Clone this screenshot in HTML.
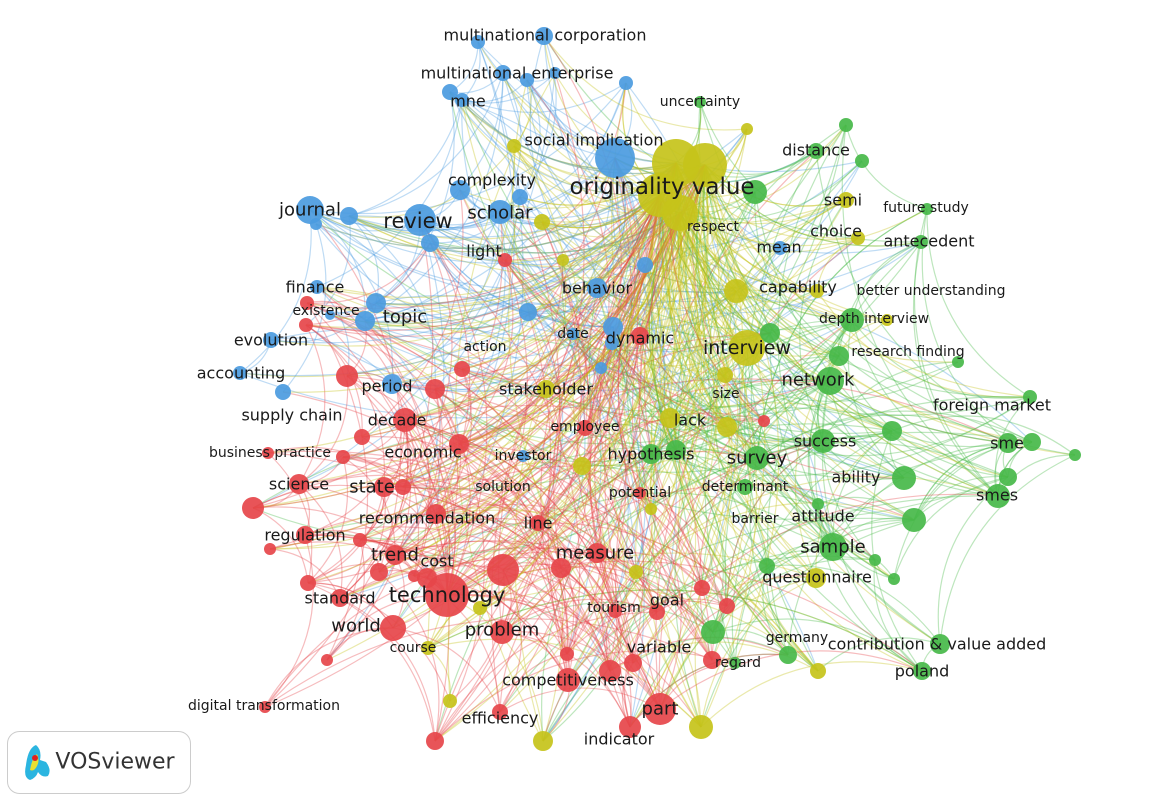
<!DOCTYPE html>
<html><head><meta charset="utf-8">
<style>
html,body{margin:0;padding:0;background:#fff;width:1151px;height:799px;overflow:hidden}
svg{display:block}
text{font-family:"DejaVu Sans","Liberation Sans",sans-serif;fill:#1a1a1a;text-anchor:middle;dominant-baseline:central}
.s{font-size:14px}.m{font-size:16px}.l{font-size:18px}.xl{font-size:22px}
</style></head><body>
<svg id="g" width="1151" height="799" viewBox="0 0 1151 799">
<g id="edges"></g>
<g id="nodes"></g>
<g id="labels">
<text class="m" x="545" y="35">multinational corporation</text>
<text class="m" x="517" y="73">multinational enterprise</text>
<text class="m" x="468" y="101">mne</text>
<text class="s" x="700" y="102">uncertainty</text>
<text class="m" x="594" y="140">social implication</text>
<text class="m" x="816" y="150">distance</text>
<text class="m" x="492" y="180">complexity</text>
<text style="font-size:23px" x="662" y="187">originality value</text>
<text class="m" x="843" y="200">semi</text>
<text class="s" x="926" y="208">future study</text>
<text class="l" x="310" y="210">journal</text>
<text class="l" x="500" y="213">scholar</text>
<text style="font-size:21px" x="418" y="221">review</text>
<text class="s" x="713" y="227">respect</text>
<text class="m" x="836" y="231">choice</text>
<text class="m" x="929" y="241">antecedent</text>
<text class="m" x="779" y="247">mean</text>
<text class="m" x="484" y="251">light</text>
<text class="m" x="315" y="287">finance</text>
<text class="m" x="597" y="288">behavior</text>
<text class="m" x="798" y="287">capability</text>
<text class="s" x="931" y="291">better understanding</text>
<text class="s" x="326" y="311">existence</text>
<text class="l" x="405" y="317">topic</text>
<text class="s" x="874" y="319">depth interview</text>
<text class="m" x="271" y="340">evolution</text>
<text class="m" x="640" y="338">dynamic</text>
<text class="s" x="573" y="334">date</text>
<text class="s" x="485" y="347">action</text>
<text style="font-size:19px" x="747" y="348">interview</text>
<text class="s" x="908" y="352">research finding</text>
<text class="m" x="241" y="373">accounting</text>
<text class="l" x="818" y="380">network</text>
<text class="m" x="387" y="386">period</text>
<text class="m" x="546" y="389">stakeholder</text>
<text class="s" x="726" y="394">size</text>
<text class="m" x="992" y="405">foreign market</text>
<text class="m" x="292" y="415">supply chain</text>
<text class="m" x="397" y="420">decade</text>
<text class="m" x="690" y="420">lack</text>
<text class="s" x="585" y="427">employee</text>
<text class="m" x="825" y="441">success</text>
<text class="m" x="1007" y="443">sme</text>
<text class="m" x="423" y="452">economic</text>
<text class="s" x="270" y="453">business practice</text>
<text class="s" x="523" y="456">investor</text>
<text class="m" x="651" y="454">hypothesis</text>
<text class="l" x="757" y="458">survey</text>
<text class="m" x="856" y="477">ability</text>
<text class="m" x="299" y="484">science</text>
<text class="l" x="372" y="487">state</text>
<text class="s" x="503" y="487">solution</text>
<text class="s" x="745" y="487">determinant</text>
<text class="s" x="640" y="493">potential</text>
<text class="m" x="997" y="495">smes</text>
<text class="m" x="823" y="516">attitude</text>
<text class="m" x="427" y="518">recommendation</text>
<text class="s" x="755" y="519">barrier</text>
<text class="m" x="538" y="523">line</text>
<text class="m" x="305" y="535">regulation</text>
<text class="l" x="833" y="547">sample</text>
<text class="l" x="595" y="553">measure</text>
<text class="l" x="395" y="555">trend</text>
<text class="m" x="437" y="561">cost</text>
<text class="m" x="817" y="577">questionnaire</text>
<text style="font-size:21px" x="447" y="595">technology</text>
<text class="m" x="340" y="598">standard</text>
<text class="m" x="667" y="600">goal</text>
<text class="s" x="614" y="608">tourism</text>
<text class="l" x="356" y="626">world</text>
<text class="l" x="502" y="630">problem</text>
<text class="s" x="797" y="638">germany</text>
<text class="m" x="937" y="644">contribution &amp; value added</text>
<text class="m" x="659" y="647">variable</text>
<text class="s" x="413" y="648">course</text>
<text class="s" x="738" y="663">regard</text>
<text class="m" x="922" y="671">poland</text>
<text class="m" x="568" y="680">competitiveness</text>
<text class="s" x="264" y="706">digital transformation</text>
<text class="l" x="660" y="709">part</text>
<text class="m" x="500" y="718">efficiency</text>
<text class="m" x="619" y="739">indicator</text>
</g>
<g>
<rect x="7.5" y="731.5" width="183" height="62" rx="12" fill="#fff" stroke="#ccc"/>
<path d="M26 765 Q28 748 36 745 Q42 750 40 760 L46 762 Q52 770 48 776 Q42 778 38 772 Q36 778 30 780 Q23 778 26 765Z" fill="#2bb5e0"/>
<path d="M30 770 Q32 758 37 754 Q40 760 37 766 Q34 772 30 770Z" fill="#e8e030"/>
<circle cx="35" cy="758" r="3" fill="#e02020"/>
<text x="115" y="762" style="font-size:22px;fill:#333;font-family:'DejaVu Sans','Liberation Sans',sans-serif">VOSviewer</text>
</g>
</svg>
<script>
var C={b:"#4b9be0",y:"#c6c31a",g:"#47b949",r:"#e6454a"};
var N=[
[478,42,7,'b'],[544,36,9,'b'],[503,73,8,'b'],[527,80,7,'b'],[555,73,6,'b'],[450,92,8,'b'],[462,100,7,'b'],[626,83,7,'b'],
[615,158,20,'b'],[460,190,10,'b'],[520,197,8,'b'],[310,210,14,'b'],[349,216,9,'b'],[316,224,6,'b'],[420,220,16,'b'],
[500,212,12,'b'],[430,243,9,'b'],[317,287,7,'b'],[330,315,5,'b'],[376,303,10,'b'],[365,321,10,'b'],[271,340,8,'b'],
[240,373,7,'b'],[392,384,10,'b'],[283,392,8,'b'],[597,288,10,'b'],[528,312,9,'b'],[613,327,10,'b'],[612,343,7,'b'],
[573,334,6,'b'],[645,265,8,'b'],[523,456,6,'b'],[601,368,6,'b'],[780,248,7,'b'],
[676,163,24,'y'],[705,165,22,'y'],[660,195,22,'y'],[680,213,18,'y'],[846,200,8,'y'],[858,238,7,'y'],[747,129,6,'y'],
[514,146,7,'y'],[542,222,8,'y'],[563,260,6,'y'],[736,291,12,'y'],[817,291,7,'y'],[747,348,18,'y'],[887,320,6,'y'],
[546,389,9,'y'],[725,375,8,'y'],[670,418,10,'y'],[727,427,10,'y'],[582,466,9,'y'],[651,509,6,'y'],[636,572,7,'y'],
[816,578,10,'y'],[818,671,8,'y'],[701,727,12,'y'],[543,741,10,'y'],[450,701,7,'y'],[480,608,7,'y'],[428,648,7,'y'],
[700,102,6,'g'],[846,125,7,'g'],[862,161,7,'g'],[816,151,8,'g'],[755,192,12,'g'],[927,209,6,'g'],[921,242,7,'g'],
[852,320,12,'g'],[770,333,10,'g'],[839,356,10,'g'],[830,381,14,'g'],[1030,397,7,'g'],[958,362,6,'g'],[823,441,12,'g'],
[892,431,10,'g'],[1032,442,9,'g'],[1008,443,10,'g'],[1075,455,6,'g'],[651,454,10,'g'],[676,450,10,'g'],[757,458,12,'g'],
[904,478,12,'g'],[745,487,8,'g'],[998,496,12,'g'],[1008,477,9,'g'],[818,504,6,'g'],[914,520,12,'g'],[833,547,14,'g'],
[875,560,6,'g'],[894,579,6,'g'],[767,566,8,'g'],[788,655,9,'g'],[940,644,10,'g'],[922,671,9,'g'],[713,632,12,'g'],[735,663,6,'g'],
[462,369,8,'r'],[435,389,10,'r'],[347,376,11,'r'],[405,420,12,'r'],[459,444,10,'r'],[362,437,8,'r'],[268,453,6,'r'],
[343,457,7,'r'],[299,484,10,'r'],[384,487,10,'r'],[403,487,8,'r'],[253,508,11,'r'],[436,514,10,'r'],[538,523,8,'r'],
[305,535,9,'r'],[270,549,6,'r'],[360,540,7,'r'],[395,555,10,'r'],[597,553,10,'r'],[379,572,9,'r'],[447,595,22,'r'],
[427,578,10,'r'],[503,570,16,'r'],[561,568,10,'r'],[340,598,9,'r'],[308,583,8,'r'],[393,628,13,'r'],[502,632,12,'r'],
[615,611,7,'r'],[657,612,8,'r'],[702,588,8,'r'],[727,606,8,'r'],[633,663,9,'r'],[712,660,9,'r'],[567,654,7,'r'],
[568,680,12,'r'],[610,671,11,'r'],[327,660,6,'r'],[265,707,6,'r'],[500,712,8,'r'],[660,709,16,'r'],[630,727,11,'r'],
[435,741,9,'r'],[585,428,8,'r'],[640,493,6,'r'],[764,421,6,'r'],[640,336,9,'r'],[505,260,7,'r'],[307,303,7,'r'],[306,325,7,'r'],[414,576,6,'r']
];
var s=12345;function R(){s=(s*1103515245+12345)%2147483648;return s/2147483648;}
var cx=640,cy=400,e="",ns="";
function edge(a,b){var dx=b[0]-a[0],dy=b[1]-a[1];var mx=(a[0]+b[0])/2,my=(a[1]+b[1])/2;
var k=0.28;var qx=mx-dy*k,qy=my+dx*k;
if((qx-cx)*(qx-cx)+(qy-cy)*(qy-cy)>(mx-cx)*(mx-cx)+(my-cy)*(my-cy)){qx=mx+dy*k;qy=my-dx*k;}
e+='<path d="M'+a[0]+' '+a[1]+'Q'+qx.toFixed(1)+' '+qy.toFixed(1)+' '+b[0]+' '+b[1]+'" stroke="'+C[a[3]]+'" stroke-opacity="0.36" fill="none" stroke-width="1.2"/>';}
for(var i=0;i<N.length;i++){for(var j=0;j<N.length;j++){if(i==j)continue;var a=N[i],b=N[j];
var d=Math.hypot(a[0]-b[0],a[1]-b[1]);var p=(a[2]*b[2])/(d+60)*0.09;if(a[3]==b[3])p*=2.2;if(R()<p)edge(a,b);}}
for(var i=0;i<N.length;i++){ if(R()<0.9)edge(N[34+Math.floor(R()*4)],N[i]); if(R()<0.6)edge(N[i],N[34+Math.floor(R()*4)]); }
for(var i=0;i<N.length;i++){var n=N[i];ns+='<circle cx="'+n[0]+'" cy="'+n[1]+'" r="'+n[2]+'" fill="'+C[n[3]]+'" fill-opacity="0.92"/>';}
document.getElementById('edges').innerHTML=e;document.getElementById('nodes').innerHTML=ns;
</script>
</body></html>
